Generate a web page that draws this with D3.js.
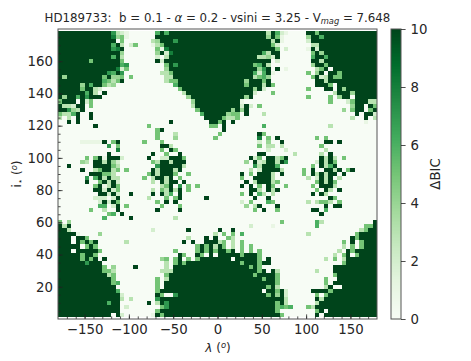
<!DOCTYPE html>
<html><head><meta charset="utf-8">
<script src="https://cdn.jsdelivr.net/npm/d3@7"></script>
<style>html,body{margin:0;padding:0;background:#fff}svg{display:block}text{font-family:"DejaVu Sans",sans-serif;fill:#262626}</style>
</head><body><div id="c"></div>
<script>
const lambdaValues = d3.range(-180, 180, 5);
const inclinationTopDown = d3.range(177.5, 0, -2.5);
const xTicks = [-150,-100,-50,0,50,100,150];
const yTicks = [20,40,60,80,100,120,140,160];
const cbTicks = [0,2,4,6,8,10];
// delta BIC: '.'=0, digits, '#'=10; top row first
const deltaBicRows = [
"############ 7321......6# 6########### ###########3 #621....##5# ############",
"############ 8451......## ############ ###########4 #51.....4##6 ############",
"############ #.5......34# ##7######### ############ 3#1.....2### ############",
"############ 6#3.25...135 ############ ############ 52.......33# ############",
"############ 78#.......51 8########### ############ #5.2....1#2# ############",
"############ ##4.......4# 28########## ##########63 ##.......5#4 ############",
"############ 6#3.......2. 3########### #########334 2#.......6## 6###########",
"#######5#### ##5.......#2 ############ ############ .2.......##3 ############",
"############ ##67........ 5#7######### ########56#3 .........4## 5###########",
"############ #825........ 4########### #########47# .#.1......35 #.##########",
"###########7 6#7........3 35########## ########626# 1.......5.4# .##5########",
"#4########5# 445.5....... 33########## ########3564 .........5#2 3#55########",
"##########65 35#......... 355######### ######4###5# ..........## 3###########",
"#####4#6##53 4........... ..6######### ######5###3# 5.........## #5.#########",
"#####5##32.. ............ ...5######## ########4#2. ........5... ##.#4#######",
"######6#3.#. ............ ....3####### ########2... 5........... ..3###4#####",
"#4##6#7###.. ............ .....4###### ######4#.... ........5... .5.4##.#####",
"5###.#25.... ............ ......4##### #####1...... ............ .5...25###33",
"#332##.5.... ............ ......3##### #####2#2.5.. ............ ......4##.#5",
"##743#...... ............ .......5#### ###4#4#..... ............ ....4.5##.5#",
"5336#..#.... ............ ........6### ##455.#...3. ............ .......#.##2",
"3.3.#..#.... ............ .........### #5335....... ............ ......3..#.3",
"..#.#....... ............ .#........## 5#.#........ ............ .........1..",
"........#... ........5... ..........55 .#........6. ............ .3..........",
"............ ..........5# ............ .#.......... ............ ............",
"............ ..........5. ..3......... 5........#5. ............ ............",
"............ ..........5. ..4........5 .........8.5 .#........5. 5...........",
".....11111#. 5#.....5...5 ............ .........2.4 ..#......... ##.#........",
"...........7 .5.........# #3.......... .........5.3 3.3........5 ............",
"............ .8.........5 .#5......... ...........2 ...2........ 3...........",
"...........# .........#.. 5..#........ .........##. .....3.....3 .#..........",
"......5.5#1# ##2.....#..2 2###5....... .......#25.# #35#.......# 3#3.5.......",
".....43.##3# 42.......53# #3###....... ......4.#23# #3#7......2# 3#5.........",
"..#.....#### 53........7# ####3....... ........73## #6.......5.# 36#.........",
".....#..35## 35.5.....#3# ##3#........ .......3.2## ##3....5.#.. ##3#.5#.....",
".......###55 3.......5#3# ##5..5...... .....#.5.### 3.#....5.#3# 3##.#.......",
"......7.6#3# 33.....5.3## 3#.5........ .....5..#### 3.......3.2# 3#.3........",
"......#..5#3 #2.......3.# 3##.#....... ......#.3### 35........5# 3#5.........",
"........5#13 #5.........3 5#.7.5.5.... .....#.#.5.# 5..5.....5.# ##3.........",
"........##2# 25.......3.5 3#3#.5...... .......##3.# 3#........5. #3.#........",
".........##2 #2..#....#.# 36.#........ .....5.#.63. 3........#.# 3...........",
"........222. 2#......3... 5.5#.....#.. ........#..# ............ .#5.........",
".........2#2 #5........5. #.#......... .....2.5...6 5.......3.35 53.5........",
".........66. 2#.5.......5 ...5........ ......4.3#.. .#.......... #.##........",
".......5..3. .#........#. ...#........ ........5.#. .5.......##. 6...........",
"...........5 6.#......... ............ ............ ...........# ............",
"..........6. ....#....... ..3......... ............ ............ ............",
"5.4......... ............ ............ ............ ..5.......63 ...........#",
"#3#......... ............ ............ .......2.... 1.........6. .........55#",
"##3......... .........2.. .....#...... #..#........ ............ ........35##",
"####1....4.. ............ ...........3 .5.5.6...... ........3... .......5####",
"###.##5..... ............ .....3...#.# ..53........ ............ ......#5####",
"###.#5#5#... ...3........ ....#.#..### 35.3.5...... ............ ....5.#.5###",
"#####.5#5... ............ .......5#5#3 #5.3.5.5.... ............ ....3.5.5###",
"###.#####5.. ............ ..5....5#5#5 ##5#.5.5.5.. ............ ...3.#5#####",
"#####5##5... ............ ...#5..#5.#. #####5###5.. ............ ..3.5#.5####",
"#####5#5#.#. ...........4 5.5#.5.5#### ###.#####5.# ............ 3.5.3#######",
"######7###.. ............ 3.5#5####### #####5###5## ............ ....5#######",
"##########5. 4....#...... 3.########## #######5#5.. ............ ..##########",
"##########55 3..........3 33########## #########5#. #3........3. ..##########",
"###########3 5........... 5########### ########5### #5.......... ..5#########",
"############ 5.........5. 3########### ##########5# #5.......... 5..#########",
"############ 56........5. ############ ############ #5.......... 5.##########",
"############ #.........5. ############ ###########5 #3.......... 3#..########",
"############ #6........5# ############ ##########.# #5#2.....### #5##########",
"############ ##2.......#5 ..7######### ###########5 #4#2......5. 5###########",
"############ ##3.3.....7# ############ ############ ###3......#3 ############",
"###########6 ##......#.3# 7########### ############ #5#3......3# ############",
"############ ##.2.......5 7########### ############ #5656...53## ############",
"############ ##........5# ############ ############ #5........5# .###########",
"############ .#2......1#5 ############ ############ ##5.......#. ############",
"############ #5#.....1.6# ############ ############ ##3.......4# ############"
];
const W=471,H=361;
const svg=d3.select("#c").append("svg").attr("width",W).attr("height",H);
const x=d3.scaleLinear().domain([-180,180]).range([58,377]);
const y=d3.scaleLinear().domain([0,180]).range([319,29]);
const color=d3.scaleLinear().domain(d3.range(9).map(i=>i*10/8)).range(d3.schemeGreens[9]);
const val=ch=>ch==="."?0:ch==="#"?10:+ch;
const cells=[];
deltaBicRows.forEach((row,ri)=>{
  row.split(" ").map(g=>g.padEnd(12,".").slice(0,12)).join("").split("").forEach((ch,ci)=>{
    cells.push({lam:lambdaValues[ci],inc:inclinationTopDown[ri],v:val(ch)});
  });
});
svg.append("g").attr("shape-rendering","crispEdges").selectAll("rect").data(cells).join("rect")
 .attr("x",d=>x(d.lam)).attr("width",d=>x(d.lam+5)-x(d.lam))
 .attr("y",d=>y(d.inc+1.25)).attr("height",d=>y(d.inc-1.25)-y(d.inc+1.25))
 .attr("fill",d=>color(d.v));
const fs=13.3;
function style(g,size){g.selectAll(".domain").remove();g.selectAll("line").attr("stroke","#222").attr("stroke-width",0.8);g.selectAll("text").attr("font-size",size);}
style(svg.append("g").attr("transform","translate(0,319)").call(d3.axisBottom(x).tickValues(d3.range(-170,180,10)).tickSize(-2.6).tickFormat("")),fs);
style(svg.append("g").attr("transform","translate(58,0)").call(d3.axisLeft(y).tickValues(d3.range(5,180,5)).tickSize(-2.6).tickFormat("")),fs);
style(svg.append("g").attr("transform","translate(0,319)").call(d3.axisBottom(x).tickValues(xTicks).tickSize(-4.6).tickPadding(6)),fs);
style(svg.append("g").attr("transform","translate(58,0)").call(d3.axisLeft(y).tickValues(yTicks).tickSize(-4.6).tickPadding(5)),fs);
svg.append("rect").attr("x",58).attr("y",29).attr("width",319).attr("height",290).attr("fill","none").attr("stroke","#555").attr("stroke-width",1);
// colorbar
const cy=d3.scaleLinear().domain([0,10]).range([319,29]);
svg.append("g").attr("shape-rendering","crispEdges").selectAll("rect").data(d3.range(0,10,0.05)).join("rect")
 .attr("x",391).attr("width",10).attr("y",d=>cy(d+0.05)).attr("height",d=>cy(d)-cy(d+0.05)+0.5).attr("fill",d=>color(d));
svg.append("rect").attr("x",391).attr("y",29).attr("width",10).attr("height",290).attr("fill","none").attr("stroke","#555").attr("stroke-width",1);
style(svg.append("g").attr("transform","translate(401,0)").call(d3.axisRight(cy).tickValues(cbTicks).tickSize(4.6).tickPadding(5).tickFormat(d3.format("d"))),fs);
// title
const t=svg.append("text").attr("x",217.5).attr("y",21.5).attr("text-anchor","middle").attr("font-size",11.8).attr("style","white-space:pre");
t.append("tspan").text("HD189733:  b = 0.1 - ");
t.append("tspan").text("α").attr("font-style","italic");
t.append("tspan").text(" = 0.2 - vsini = 3.25 - V");
t.append("tspan").text("mag").attr("font-style","italic").attr("font-size",8.3).attr("dy",2);
t.append("tspan").text(" = 7.648").attr("dy",-2);
// xlabel
const xl=svg.append("text").attr("x",218).attr("y",352).attr("text-anchor","middle").attr("font-size",12).attr("style","white-space:pre");
xl.append("tspan").text("λ").attr("font-style","italic");
xl.append("tspan").text(" (");
xl.append("tspan").text("o").attr("font-style","italic").attr("font-size",8.4).attr("dy",-4);
xl.append("tspan").text(")").attr("dy",4);
// ylabel
const yl=svg.append("text").attr("transform","translate(21,174) rotate(-90)").attr("text-anchor","middle").attr("font-size",12).attr("style","white-space:pre");
yl.append("tspan").text("i");
yl.append("tspan").text("⋆").attr("font-size",8.4).attr("dy",2);
yl.append("tspan").text(" (").attr("dy",-2);
yl.append("tspan").text("o").attr("font-style","italic").attr("font-size",8.4).attr("dy",-4);
yl.append("tspan").text(")").attr("dy",4);
svg.append("text").attr("transform","translate(440,174) rotate(-90)").attr("text-anchor","middle").attr("font-size",13.3).text("ΔBIC");
</script></body></html>
